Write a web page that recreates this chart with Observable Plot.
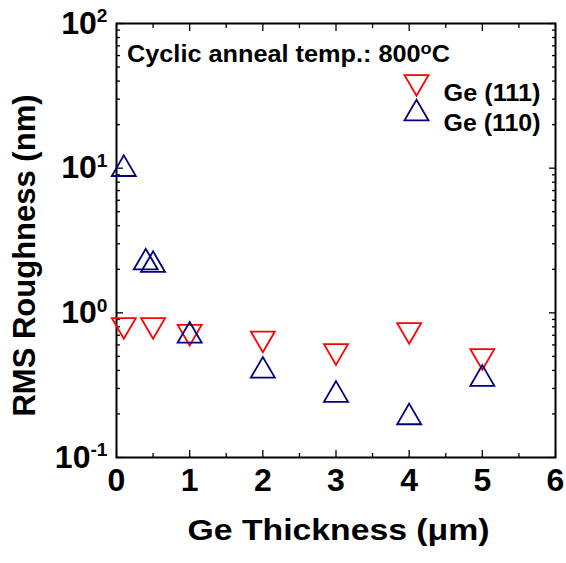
<!DOCTYPE html>
<html>
<head>
<meta charset="utf-8">
<script src="https://cdn.jsdelivr.net/npm/d3@7"></script>
<script src="https://cdn.jsdelivr.net/npm/@observablehq/plot@0.6"></script>
<style>
  html, body { margin: 0; padding: 0; background: #fff; }
</style>
</head>
<body>
<div id="chart"></div>
<script>
// RMS roughness of Ge layers after cyclic annealing at 800 °C
const thickness111 = [0.1, 0.5, 1, 2, 3, 4, 5];
const roughness111 = [0.78, 0.78, 0.70, 0.63, 0.515, 0.72, 0.476];

const thickness110 = [0.1, 0.4, 0.5, 1, 2, 3, 4, 5];
const roughness110 = [10.4, 2.35, 2.26, 0.733, 0.42, 0.286, 0.20, 0.369];

const seriesNames = ["Ge (111)", "Ge (110)"];
const seriesColors = ["#ff0000", "#000080"];

const annotation = "Cyclic anneal temp.: 800oC";
const xTitle = "Ge Thickness (\u03bcm)";
const yTitle = "RMS Roughness (nm)";

const xMajorTicks = [0, 1, 2, 3, 4, 5, 6];
const xMinorTicks = [0.5, 1.5, 2.5, 3.5, 4.5, 5.5];
const yMajorTicks = [0.1, 1, 10, 100];
const yMinorTicks = [
  0.2, 0.3, 0.4, 0.5, 0.6, 0.7, 0.8, 0.9,
  2, 3, 4, 5, 6, 7, 8, 9,
  20, 30, 40, 50, 60, 70, 80, 90
];

const ge111 = thickness111.map((t, i) => ({thickness: t, roughness: roughness111[i]}));
const ge110 = thickness110.map((t, i) => ({thickness: t, roughness: roughness110[i]}));

// open triangles centred on their bounding box; dir = 1 points up, -1 points down
function triangle(dir) {
  return {
    draw(context, size) {
      const r = Math.sqrt(size / Math.PI);
      const w = r, h = r * 0.86;
      context.moveTo(0, -dir * h);
      context.lineTo(w, dir * h);
      context.lineTo(-w, dir * h);
      context.closePath();
    }
  };
}
const triDown = triangle(-1);
const triUp = triangle(1);

const font = "'Liberation Sans', Arial, Helvetica, sans-serif";
const markerStyle = {r: 12, fill: "none", strokeWidth: 1.8, strokeLinejoin: "miter"};

const tickAxis = (axis, anchor, ticks, size) =>
  axis({anchor, ticks, tickSize: size, tickFormat: () => "", label: null, strokeWidth: 1.3});

const chart = Plot.plot({
  width: 566,
  height: 563,
  marginLeft: 116,
  marginRight: 11,
  marginTop: 23,
  marginBottom: 106,
  style: {fontFamily: font, background: "#fff", color: "#000"},
  x: {domain: [0, 6]},
  y: {type: "log", domain: [0.1, 100]},
  marks: [
    // inward ticks on all four sides
    tickAxis(Plot.axisX, "bottom", xMajorTicks, -7),
    tickAxis(Plot.axisX, "bottom", xMinorTicks, -4),
    tickAxis(Plot.axisX, "top", xMajorTicks, -7),
    tickAxis(Plot.axisX, "top", xMinorTicks, -4),
    tickAxis(Plot.axisY, "left", yMajorTicks, -7),
    tickAxis(Plot.axisY, "left", yMinorTicks, -4),
    tickAxis(Plot.axisY, "right", yMajorTicks, -7),
    tickAxis(Plot.axisY, "right", yMinorTicks, -4),
    // tick labels
    Plot.axisX({anchor: "bottom", ticks: xMajorTicks, tickSize: 0, tickPadding: 11,
      label: null, fontSize: 32, fontWeight: "bold", tickFormat: d => String(d)}),
    Plot.axisY({anchor: "left", ticks: yMajorTicks, tickSize: 0, tickPadding: 9,
      label: null, fontSize: 32, fontWeight: "bold",
      tickFormat: d => `10^${Math.round(Math.log10(d))}`}),
    Plot.frame({stroke: "#000", strokeWidth: 2}),
    // data
    Plot.dot(ge111, {x: "thickness", y: "roughness", symbol: triDown, stroke: seriesColors[0], ...markerStyle}),
    Plot.dot(ge110, {x: "thickness", y: "roughness", symbol: triUp, stroke: seriesColors[1], ...markerStyle}),
    // legend
    Plot.dot([seriesNames[0]], {frameAnchor: "top-right", dx: -139, dy: 62, symbol: triDown, stroke: seriesColors[0], ...markerStyle}),
    Plot.dot([seriesNames[1]], {frameAnchor: "top-right", dx: -139, dy: 86.5, symbol: triUp, stroke: seriesColors[1], ...markerStyle}),
    Plot.text([seriesNames[0]], {text: d => d, frameAnchor: "top-right", dx: -112, dy: 61,
      textAnchor: "start", fontSize: 23.5, fontWeight: "bold"}),
    Plot.text([seriesNames[1]], {text: d => d, frameAnchor: "top-right", dx: -112, dy: 90.5,
      textAnchor: "start", fontSize: 23.5, fontWeight: "bold"}),
    // annotation
    Plot.text([annotation], {text: d => d, frameAnchor: "top-left", dx: 10.5, dy: 22.5,
      textAnchor: "start", fontSize: 23, fontWeight: "bold"}),
    // axis titles
    Plot.text([xTitle], {text: d => d, frameAnchor: "bottom", dx: 2.5, dy: 82,
      fontSize: 29.5, fontWeight: "bold"}),
    Plot.text([yTitle], {text: d => d, frameAnchor: "left", textAnchor: "middle",
      dx: -91, dy: 15, rotate: -90, fontSize: 31, fontWeight: "bold"})
  ]
});

document.getElementById("chart").appendChild(chart);

const svg = d3.select(chart);
const widths = new Map([[seriesNames[0], 97], [seriesNames[1], 97], [xTitle, 302]]);

svg.selectAll("text").each(function() {
  const t = d3.select(this);
  const s = this.textContent;
  const power = /^10\^(-?\d+)$/.exec(s);
  if (power) {
    // power of ten with a superscript exponent
    t.text("10");
    t.append("tspan").attr("dy", "-0.6em").attr("font-size", "0.6em").text(power[1]);
  } else if (s === annotation) {
    // superscript "o" in the temperature, then back to the baseline for "C"
    t.text("Cyclic anneal temp.: 800");
    t.append("tspan").attr("dy", -8).attr("font-size", "0.72em").text("o");
    t.append("tspan").attr("dy", 8).text("C");
    t.attr("textLength", 323).attr("lengthAdjust", "spacingAndGlyphs");
  } else if (widths.has(s)) {
    // wide bold lettering of the horizontal labels
    t.attr("textLength", widths.get(s)).attr("lengthAdjust", "spacingAndGlyphs");
  }
});
</script>
</body>
</html>
